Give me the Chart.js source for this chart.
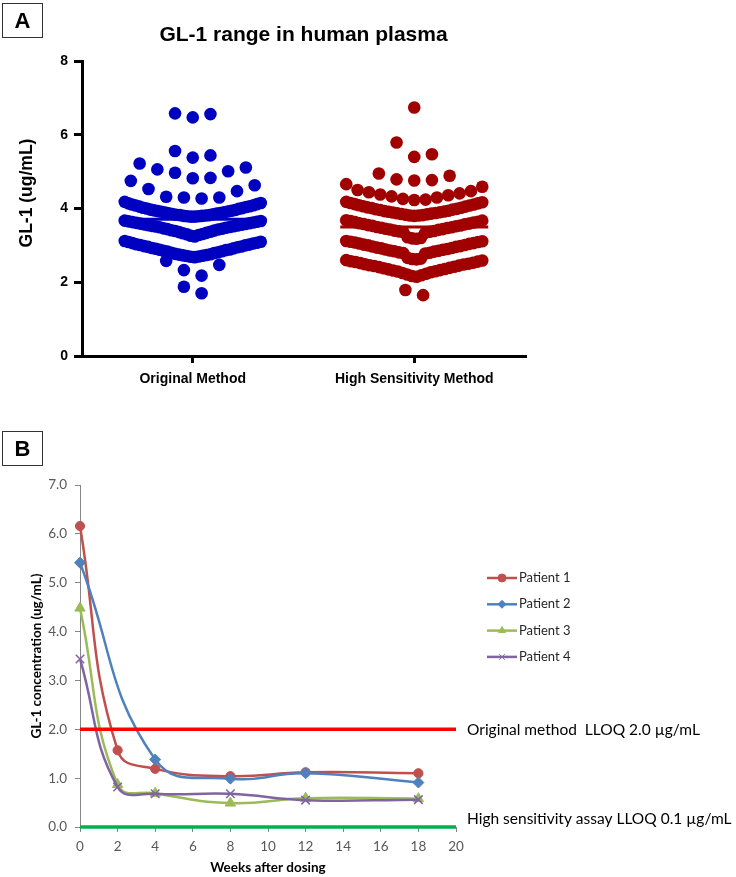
<!DOCTYPE html>
<html>
<head>
<meta charset="utf-8">
<script src="https://cdn.jsdelivr.net/npm/chart.js@4.4.1/dist/chart.umd.min.js"></script>
<style>
  body { margin: 0; background: #fff; }
  .wrap { position: relative; width: 736px; height: 877px; }
  .panel { position: absolute; left: 0; }
  .tag {
    position: absolute; left: 2px; width: 39px; height: 33px;
    border: 1.5px solid #333; font: bold 22px "Liberation Sans", Arial, sans-serif;
    text-align: center; line-height: 33px; color: #000;
  }
</style>
</head>
<body>
<div class="wrap">
  <canvas id="chartA" class="panel" style="top:0" width="736" height="420"></canvas>
  <canvas id="chartB" class="panel" style="top:420px" width="736" height="457"></canvas>
  <div class="tag" style="top:3px">A</div>
  <div class="tag" style="top:431px">B</div>
</div>
<script>
// ---- Panel A: GL-1 em plasma humano ----
const categories = ['Original Method', 'High Sensitivity Method'];
const meanValues = [3.71, 3.50];

const originalValues = [
  6.58, 6.47, 6.56,
  5.56, 5.44, 5.38,
  5.22, 5.11, 5.06, 4.97, 5.01, 4.82, 4.83,
  4.75, 4.63, 4.53, 4.47, 4.32, 4.30, 4.30, 4.27,
  3.78, 3.78, 3.79, 3.79, 3.80, 3.80, 3.81, 3.82, 3.82, 3.83,
  3.84, 3.85, 3.86, 3.87, 3.88, 3.89, 3.90, 3.91, 3.92, 3.93,
  3.94, 3.95, 3.96, 3.97, 3.99, 4.00, 4.01, 4.02, 4.04, 4.05,
  4.06, 4.08, 4.09, 4.11, 4.12, 4.14, 4.15, 4.18,
  3.24, 3.26, 3.28, 3.30, 3.31, 3.33, 3.34, 3.36, 3.37, 3.39,
  3.40, 3.41, 3.43, 3.44, 3.45, 3.46, 3.48, 3.49, 3.50, 3.51,
  3.52, 3.53, 3.54, 3.55, 3.56, 3.57, 3.58, 3.59, 3.60, 3.61,
  3.62, 3.63, 3.64, 3.65, 3.66, 3.67,
  2.68, 2.69, 2.70, 2.71, 2.72, 2.73, 2.74, 2.75, 2.76, 2.77,
  2.79, 2.80, 2.81, 2.83, 2.84, 2.85, 2.87, 2.88, 2.89, 2.91,
  2.92, 2.93, 2.95, 2.96, 2.97, 2.98, 3.00, 3.01, 3.02, 3.03,
  3.05, 3.06, 3.07, 3.09, 3.10, 3.12,
  2.58, 2.47, 2.33, 2.18,
  1.88, 1.70
];

const highSensValues = [
  6.74,
  5.79, 5.47, 5.40,
  4.95, 4.89, 4.79, 4.77, 4.76,
  4.23, 4.24, 4.26, 4.30, 4.33, 4.36, 4.38, 4.41, 4.44, 4.47, 4.50, 4.59, 4.66,
  3.80, 3.81, 3.81, 3.82, 3.83, 3.84, 3.85, 3.86, 3.87, 3.88,
  3.89, 3.90, 3.91, 3.92, 3.93, 3.94, 3.96, 3.97, 3.98, 3.99,
  4.01, 4.02, 4.03, 4.05, 4.06, 4.08, 4.09, 4.11, 4.12, 4.14,
  4.15, 4.17, 4.18,
  3.18, 3.19, 3.20, 3.22, 3.34, 3.36, 3.37, 3.38, 3.39, 3.40,
  3.42, 3.43, 3.44, 3.45, 3.47, 3.48, 3.49, 3.50, 3.52, 3.53,
  3.54, 3.55, 3.57, 3.58, 3.59, 3.60, 3.62, 3.63, 3.64, 3.66,
  3.67, 3.68,
  2.62, 2.63, 2.64, 2.66, 2.78, 2.79, 2.80, 2.81, 2.83, 2.84,
  2.85, 2.86, 2.88, 2.89, 2.90, 2.92, 2.93, 2.94, 2.96, 2.97,
  2.98, 3.00, 3.01, 3.02, 3.04, 3.05, 3.06, 3.08, 3.09, 3.10,
  3.11, 3.12,
  2.15, 2.17, 2.19, 2.21, 2.23, 2.25, 2.27, 2.29, 2.30, 2.32,
  2.33, 2.35, 2.36, 2.38, 2.39, 2.41, 2.42, 2.44, 2.45, 2.46,
  2.48, 2.49, 2.50, 2.52, 2.53, 2.55, 2.56, 2.57, 2.59, 2.60,
  1.65, 1.79
];

// ---- Panel B: pacientes ----
const weeks = [0, 2, 4, 8, 12, 18];
const patient1 = [6.16, 1.57, 1.19, 1.04, 1.12, 1.10];
const patient2 = [5.41, null, 1.38, 0.99, 1.10, 0.91];
const patient3 = [4.48, 0.87, 0.69, 0.49, 0.59, 0.58];
const patient4 = [3.44, 0.82, 0.68, 0.68, 0.55, 0.56];
const patientNames = ['Patient 1', 'Patient 2', 'Patient 3', 'Patient 4'];
const lloqLevels = [2.0, 0.0];
const lloqLabels = ['Original method  LLOQ 2.0 \u00b5g/mL', 'High sensitivity assay LLOQ 0.1 \u00b5g/mL'];

const ARIAL = '"Liberation Sans", Arial, sans-serif';
const CALIBRI = 'Lato, "Open Sans", sans-serif';

// Layout do "beeswarm" (estilo GraphPad): linhas por faixa de valor, alternando direita/esquerda
const DOT_R = 6.3, STEP_PX = 17.7, MAX_ROW_PX = 136, MEAN_HALF_PX = 74;
const BIN_ORIGIN = 4.22, BIN_STEP = 0.535;

function swarm(values, cat, ppu) {
    const rows = new Map();
    values.forEach(v => {
        const k = Math.floor((v - BIN_ORIGIN) / BIN_STEP);
        if (!rows.has(k)) rows.set(k, []);
        rows.get(k).push(v);
    });
    const pts = [];
    rows.forEach(row => {
        row.sort((a, b) => a - b);
        const n = row.length;
        const s = n > 1 ? Math.min(STEP_PX, MAX_ROW_PX / (n - 1)) : 0;
        row.forEach((v, i) => {
            let slot;
            if (n % 2) slot = i === 0 ? 0 : Math.ceil(i / 2) * (i % 2 ? 1 : -1);
            else slot = (Math.floor(i / 2) + 0.5) * (i % 2 ? -1 : 1);
            pts.push({ x: cat + slot * s / ppu, y: v });
        });
    });
    return pts;
}

const dotColors = ['#0000C0', '#A00000'];

const chartA = new Chart(document.getElementById('chartA').getContext('2d'), {
    type: 'scatter',
    data: {
        datasets: [0, 1].map(i => ({
            label: categories[i],
            data: [],
            pointRadius: DOT_R,
            pointBackgroundColor: dotColors[i],
            pointBorderWidth: 0,
            order: 0
        })).concat([0, 1].map(i => ({
            label: 'mean ' + categories[i],
            data: [],
            showLine: true,
            borderColor: dotColors[i],
            borderWidth: 3,
            pointRadius: 0,
            order: 1
        })))
    },
    options: {
        responsive: false,
        devicePixelRatio: 1,
        animation: false,
        layout: { padding: { left: 0, right: 211, top: 61, bottom: 24 } },
        plugins: { legend: { display: false }, tooltip: { enabled: false } },
        scales: {
            x: {
                type: 'linear', min: 0.5, max: 2.5,
                afterBuildTicks: (scale) => { scale.ticks = categories.map((c, i) => ({ value: i + 1 })); },
                afterFit: (scale) => { scale.height = 40; },
                grid: { display: true, drawOnChartArea: false, tickLength: 7, lineWidth: 3, color: '#000' },
                border: { display: true, width: 3, color: '#000' },
                ticks: {
                    autoSkip: false, maxRotation: 0, minRotation: 0, padding: 8,
                    color: '#000', font: { family: ARIAL, size: 14, weight: 'bold' },
                    callback: (v) => categories[v - 1]
                }
            },
            y: {
                min: 0, max: 8,
                afterFit: (scale) => { scale.width = 82; },
                grid: { display: true, drawOnChartArea: false, tickLength: 8, lineWidth: 3, color: '#000' },
                border: { display: true, width: 3, color: '#000' },
                ticks: { stepSize: 2, padding: 6, color: '#000', font: { family: ARIAL, size: 14, weight: 'bold' } }
            }
        }
    },
    plugins: [{
        id: 'textosA',
        afterDraw: (chart) => {
            const ctx = chart.ctx;
            const area = chart.chartArea;
            ctx.save();
            ctx.fillStyle = '#000';
            ctx.textAlign = 'center';
            ctx.textBaseline = 'middle';
            ctx.font = `bold 21px ${ARIAL}`;
            ctx.fillText('GL-1 range in human plasma', (area.left + area.right) / 2, 35);
            // título do eixo y
            ctx.translate(27, 193);
            ctx.rotate(-Math.PI / 2);
            ctx.font = `bold 17.5px ${ARIAL}`;
            ctx.fillText('GL-1 (ug/mL)', 0, 0);
            ctx.restore();
        }
    }]
});

// posiciona os pontos depois que a escala x existe
(function layoutSwarm(chart) {
    const xs = chart.scales.x;
    const ppu = xs.getPixelForValue(2) - xs.getPixelForValue(1);
    [originalValues, highSensValues].forEach((vals, i) => {
        chart.data.datasets[i].data = swarm(vals, i + 1, ppu);
        chart.data.datasets[i + 2].data = [
            { x: i + 1 - MEAN_HALF_PX / ppu, y: meanValues[i] },
            { x: i + 1 + MEAN_HALF_PX / ppu, y: meanValues[i] }
        ];
    });
    chart.update();
})(chartA);

// ---- Panel B ----
const patientSeries = [patient1, patient2, patient3, patient4];
const patientColors = ['#C0504D', '#4F81BD', '#9BBB59', '#8064A2'];
const patientStyles = ['circle', 'rectRot', 'triangle', 'crossRot'];
const patientRadius = [4.6, 5.5, 6, 6];
const lloqColors = ['#FF0000', '#00B050'];

function toXY(series) {
    return weeks.map((w, i) => ({ x: w, y: series[i] }));
}

const datasetsB = patientSeries.map((s, i) => ({
    label: patientNames[i],
    data: toXY(s),
    borderColor: patientColors[i],
    backgroundColor: patientColors[i],
    borderWidth: 2.5,
    tension: 0.45,
    spanGaps: true,
    pointStyle: patientStyles[i],
    pointRadius: patientRadius[i],
    pointBorderWidth: i === 3 ? 1.5 : 1,
    pointBackgroundColor: patientColors[i],
    pointBorderColor: patientColors[i],
    clip: false,
    order: 4 - i
})).concat(lloqLevels.map((lv, i) => ({
    label: lloqLabels[i],
    data: [{ x: 0, y: lv }, { x: 20, y: lv }],
    borderColor: lloqColors[i],
    borderWidth: 3.5,
    pointRadius: 0,
    tension: 0,
    clip: false,
    order: 0
})));

const chartB = new Chart(document.getElementById('chartB').getContext('2d'), {
    type: 'line',
    data: { datasets: datasetsB },
    options: {
        responsive: false,
        devicePixelRatio: 1,
        animation: false,
        layout: { padding: { left: 0, right: 280, top: 65, bottom: 0 } },
        plugins: { legend: { display: false }, tooltip: { enabled: false } },
        scales: {
            x: {
                type: 'linear', min: 0, max: 20,
                afterFit: (scale) => { scale.height = 50; },
                grid: { display: true, drawOnChartArea: false, tickLength: 5, lineWidth: 1, color: '#868686' },
                border: { display: true, width: 1, color: '#868686' },
                ticks: { stepSize: 2, padding: 7, color: '#595959', font: { family: CALIBRI, size: 13.5 } },
                title: {
                    display: true, text: 'Weeks after dosing', color: '#000',
                    font: { family: CALIBRI, size: 13.5, weight: 'bold' },
                    padding: { top: 0, bottom: 1 }
                }
            },
            y: {
                min: 0, max: 7,
                afterFit: (scale) => { scale.width = 80; },
                grid: { display: true, drawOnChartArea: false, tickLength: 5, lineWidth: 1, color: '#868686' },
                border: { display: true, width: 1, color: '#868686' },
                ticks: {
                    stepSize: 1, padding: 8, color: '#595959', font: { family: CALIBRI, size: 13.5 },
                    callback: (v) => v.toFixed(1)
                },
                title: {
                    display: true, text: 'GL-1 concentration (ug/mL)', color: '#000',
                    font: { family: CALIBRI, size: 13.5, weight: 'bold' },
                    padding: { top: 29, bottom: 0 }
                }
            }
        }
    },
    plugins: [{
        id: 'legendaEtextos',
        afterDraw: (chart) => {
            const ctx = chart.ctx;
            const area = chart.chartArea;
            const ys = chart.scales.y;
            ctx.save();
            // legenda dos pacientes
            ctx.font = `13px ${CALIBRI}`;
            ctx.textBaseline = 'middle';
            ctx.textAlign = 'left';
            patientNames.forEach((name, i) => {
                const y = 158 + i * 26.3;
                ctx.strokeStyle = patientColors[i];
                ctx.lineWidth = 2.5;
                ctx.beginPath();
                ctx.moveTo(area.right + 31, y);
                ctx.lineTo(area.right + 61, y);
                ctx.stroke();
                ctx.fillStyle = patientColors[i];
                ctx.lineWidth = 1;
                Chart.helpers.drawPoint(ctx, { pointStyle: patientStyles[i], radius: 4, borderWidth: 1, rotation: 0 }, area.right + 46, y);
                ctx.fillStyle = '#262626';
                ctx.fillText(name, area.right + 63, y);
            });
            // rótulos das linhas LLOQ
            ctx.font = `15.5px ${CALIBRI}`;
            ctx.fillStyle = '#000';
            const offsets = [1, -8];
            lloqLabels.forEach((txt, i) => {
                ctx.fillText(txt, area.right + 11, ys.getPixelForValue(lloqLevels[i]) + offsets[i]);
            });
            ctx.restore();
        }
    }]
});
</script>
</body>
</html>
